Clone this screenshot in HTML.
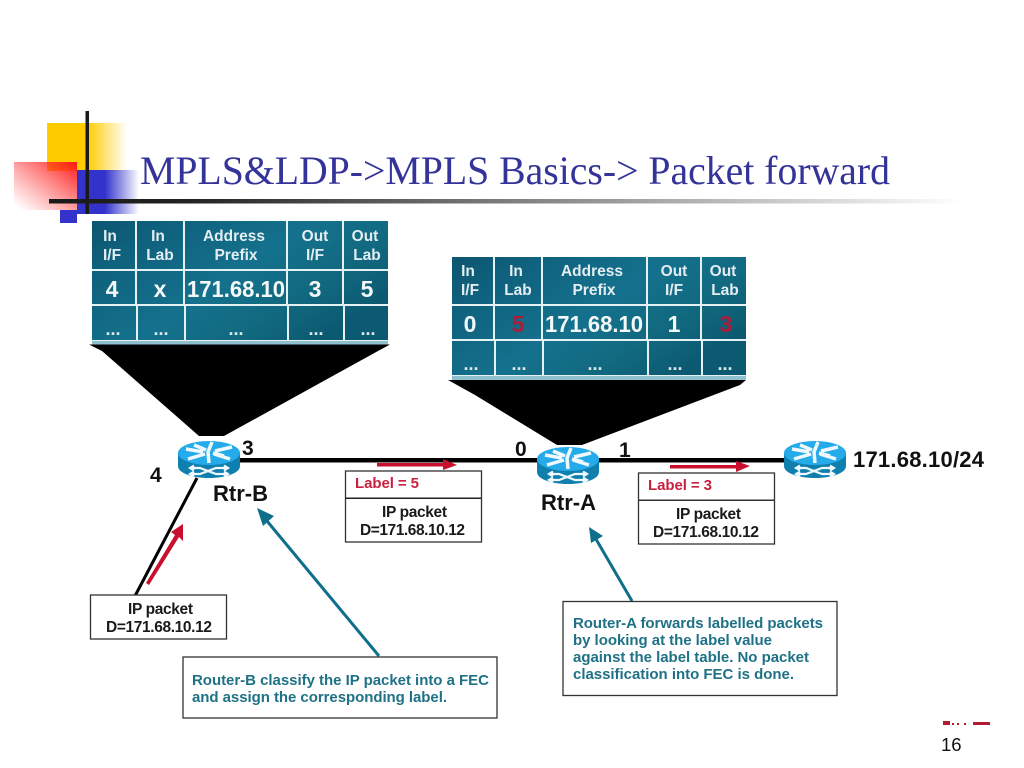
<!DOCTYPE html>
<html><head><meta charset="utf-8">
<style>
html,body{margin:0;padding:0;background:#fff;width:1024px;height:768px;overflow:hidden}
svg{display:block}
text{font-family:"Liberation Sans",sans-serif}
.h{fill:#e4eef2;font-weight:700;font-size:15.5px;text-anchor:middle}
.v{fill:#f4f8f8;font-weight:700;font-size:23px;text-anchor:middle}
.d{fill:#dfe9ec;font-weight:700;font-size:18px;text-anchor:middle}
.k{fill:#1a1a1a;font-weight:700;font-size:15.5px;text-anchor:middle}
.t{fill:#1f7186;font-weight:700;font-size:15px}
.l{fill:#111;font-weight:700}
</style></head><body>
<svg width="1024" height="768" viewBox="0 0 1024 768" xmlns="http://www.w3.org/2000/svg">
<defs>
<linearGradient id="y" x1="0" x2="1" y1="0" y2="0"><stop offset="0" stop-color="#ffcc00"/><stop offset=".5" stop-color="#ffcc00"/><stop offset="1" stop-color="#ffcc00" stop-opacity="0"/></linearGradient>
<linearGradient id="b" x1="0" x2="1" y1="0" y2="0"><stop offset="0" stop-color="#3333cc"/><stop offset=".45" stop-color="#3333cc"/><stop offset="1" stop-color="#3333cc" stop-opacity="0"/></linearGradient>
<linearGradient id="r" x1="1" x2="0" y1="0" y2="1"><stop offset="0" stop-color="#ff1a1a"/><stop offset=".95" stop-color="#ff4040" stop-opacity="0"/></linearGradient>
<linearGradient id="line" x1="0" x2="1" y1="0" y2="0"><stop offset="0" stop-color="#1a1a1a"/><stop offset=".15" stop-color="#222"/><stop offset="1" stop-color="#fff"/></linearGradient>
<linearGradient id="tbl" x1="0" x2="1" y1="0" y2="0.6"><stop offset="0" stop-color="#0c5570"/><stop offset=".2" stop-color="#0f617d"/><stop offset=".55" stop-color="#14718d"/><stop offset=".8" stop-color="#11697f"/><stop offset="1" stop-color="#0c5a72"/></linearGradient>
<g id="router">
<path d="M0 12V25C0 32 14 37 31 37S62 32 62 25V12Z" fill="#0f7fae"/>
<ellipse cx="31" cy="12" rx="31" ry="12" fill="#25aaea"/>
<path d="M8 8L25 11M16 4L28 9M54 6L37 10M46 15L35 12M10 18L27 13M52 18L36 13M34 1L30 11L31 22" fill="none" stroke="#eef8fd" stroke-width="3.500"/>
<path d="M14 27H22L38 33H48M14 33H22L38 27H48M16 24.500L12 27L16 29.500M16 30.500L12 33L16 35.500M46 24.500L50 27L46 29.500M46 30.500L50 33L46 35.500" fill="none" stroke="#eef8fd" stroke-width="2.200"/>
</g>
</defs>

<rect x="47" y="123" width="80" height="48" fill="url(#y)"/>
<rect x="77" y="170" width="62" height="44" fill="url(#b)"/>
<rect x="60" y="210" width="17" height="13" fill="#3333cc"/>
<rect x="14" y="162" width="63" height="48" fill="url(#r)"/>
<rect x="85.500" y="111" width="3.500" height="103" fill="#1a1a1a"/>
<rect x="49" y="199" width="915" height="4.500" fill="url(#line)"/>

<text x="140" y="184" font-size="40" fill="#333399" style="font-family:'Liberation Serif',serif" textLength="750" lengthAdjust="spacingAndGlyphs">MPLS&amp;LDP-&gt;MPLS Basics-&gt; Packet forward</text>

<!-- Table 1 -->
<g>
<rect x="92" y="221" width="296" height="119" fill="url(#tbl)"/>
<g fill="#e6f1f4">
<rect x="92" y="269" width="296" height="2"/><rect x="92" y="304" width="296" height="2"/>
<rect x="135" y="221" width="2" height="84"/><rect x="183" y="221" width="2" height="84"/><rect x="286" y="221" width="2" height="84"/><rect x="342" y="221" width="2" height="84"/>
<rect x="136" y="305" width="2" height="35"/><rect x="184" y="305" width="2" height="35"/><rect x="287" y="305" width="2" height="35"/><rect x="343" y="305" width="2" height="35"/>
<rect x="92" y="340" width="296" height="1"/>
</g>
<rect x="92" y="341" width="296" height="3.500" fill="#8fc0cd"/>
<text class="h" x="110" y="241">In</text><text class="h" x="112" y="260">I/F</text>
<text class="h" x="158" y="241">In</text><text class="h" x="160" y="260">Lab</text>
<text class="h" x="234" y="241">Address</text><text class="h" x="236" y="260">Prefix</text>
<text class="h" x="315" y="241">Out</text><text class="h" x="315" y="260">I/F</text>
<text class="h" x="365" y="241">Out</text><text class="h" x="367" y="260">Lab</text>
<text class="v" x="112" y="297">4</text><text class="v" x="160" y="297">x</text><text class="v" x="236" y="297" textLength="98" lengthAdjust="spacingAndGlyphs">171.68.10</text><text class="v" x="315" y="297">3</text><text class="v" x="367" y="297">5</text>
<text class="d" x="113" y="335">...</text><text class="d" x="161" y="335">...</text><text class="d" x="236" y="335">...</text><text class="d" x="316" y="335">...</text><text class="d" x="368" y="335">...</text>
</g>
<polygon points="89,344.500 390,344.500 378,351 224,436 199,436 102,351" fill="#000"/>

<!-- Table 2 -->
<g>
<rect x="452" y="257" width="294" height="118" fill="url(#tbl)"/>
<g fill="#e6f1f4">
<rect x="452" y="304" width="294" height="2"/><rect x="452" y="339" width="294" height="2"/>
<rect x="493" y="257" width="2" height="83"/><rect x="541" y="257" width="2" height="83"/><rect x="646" y="257" width="2" height="83"/><rect x="700" y="257" width="2" height="83"/>
<rect x="494" y="340" width="2" height="35"/><rect x="542" y="340" width="2" height="35"/><rect x="647" y="340" width="2" height="35"/><rect x="701" y="340" width="2" height="35"/>
<rect x="452" y="375" width="294" height="1"/>
</g>
<rect x="452" y="376" width="294" height="4" fill="#8fc0cd"/>
<text class="h" x="468" y="276">In</text><text class="h" x="470" y="295">I/F</text>
<text class="h" x="516" y="276">In</text><text class="h" x="518" y="295">Lab</text>
<text class="h" x="592" y="276">Address</text><text class="h" x="594" y="295">Prefix</text>
<text class="h" x="674" y="276">Out</text><text class="h" x="674" y="295">I/F</text>
<text class="h" x="723" y="276">Out</text><text class="h" x="725" y="295">Lab</text>
<text class="v" x="470" y="332">0</text><text class="v" x="518" y="332" style="fill:#b01c38">5</text><text class="v" x="594" y="332" textLength="98" lengthAdjust="spacingAndGlyphs">171.68.10</text><text class="v" x="674" y="332">1</text><text class="v" x="726" y="332" style="fill:#b01c38">3</text>
<text class="d" x="471" y="370">...</text><text class="d" x="519" y="370">...</text><text class="d" x="595" y="370">...</text><text class="d" x="675" y="370">...</text><text class="d" x="725" y="370">...</text>
</g>
<polygon points="448,380 746,380 740,385 582,445 557,445 475,395" fill="#000"/>

<!-- Links -->
<rect x="236" y="458" width="304" height="4.500" fill="#000"/>
<rect x="597" y="458" width="190" height="4.500" fill="#000"/>
<line x1="197" y1="478" x2="135" y2="596" stroke="#000" stroke-width="3"/>

<use href="#router" x="178" y="441"/>
<use href="#router" x="537" y="447"/>
<use href="#router" x="784" y="441"/>

<text class="l" x="242" y="455" font-size="21">3</text>
<text class="l" x="150" y="482" font-size="21">4</text>
<text class="l" x="515" y="456" font-size="21">0</text>
<text class="l" x="619" y="457" font-size="21">1</text>
<text class="l" x="213" y="501" font-size="22">Rtr-B</text>
<text class="l" x="541" y="510" font-size="22">Rtr-A</text>
<text class="l" x="853" y="467" font-size="22" textLength="131">171.68.10/24</text>

<!-- Red arrows -->
<g fill="#c8102e" stroke="none">
<rect x="377" y="463" width="68" height="3.500"/><polygon points="443,459 457,465 443,470"/>
<rect x="670" y="465" width="68" height="3.500"/><polygon points="736,461 750,466 736,472"/>
<polygon points="149,585 146,583 175,535 171,532 183,524 183,541 179,537"/>
</g>

<!-- Teal arrows -->
<g stroke="#0e6f8a" stroke-width="3" fill="none"><line x1="379" y1="656" x2="262" y2="515"/><line x1="632" y1="601" x2="593" y2="534"/></g>
<g fill="#0e6f8a"><polygon points="257,508 274,516 263,526"/><polygon points="589,527 603,536 591,543"/></g>

<!-- Boxes -->
<g fill="#fff" stroke="#333" stroke-width="1.300">
<rect x="345.500" y="471" width="136" height="71"/>
<rect x="638.500" y="473" width="136" height="71"/>
<rect x="90.500" y="595" width="136" height="44"/>
<rect x="183" y="657" width="314" height="61"/>
<rect x="563" y="601.500" width="274" height="94"/>
</g>
<rect x="345" y="497.500" width="136" height="1.500" fill="#222"/>
<rect x="638" y="499.500" width="136" height="1.500" fill="#333"/>

<text x="355" y="488" font-size="15" font-weight="700" fill="#c8203f" textLength="64">Label = 5</text>
<text x="648" y="490" font-size="15" font-weight="700" fill="#c8203f" textLength="64">Label = 3</text>
<text class="k" x="414.500" y="517" textLength="65">IP packet</text><text class="k" x="412.500" y="535" textLength="105">D=171.68.10.12</text>
<text class="k" x="708.500" y="519" textLength="65">IP packet</text><text class="k" x="706" y="537" textLength="106">D=171.68.10.12</text>
<text class="k" x="160.500" y="614" textLength="65">IP packet</text><text class="k" x="159" y="632" textLength="106">D=171.68.10.12</text>

<text class="t" x="192" y="685" textLength="297">Router-B classify the IP packet into a FEC</text>
<text class="t" x="192" y="702" textLength="255">and assign the corresponding label.</text>
<text class="t" x="573" y="628" textLength="250">Router-A forwards labelled packets</text>
<text class="t" x="573" y="645" textLength="199">by looking at the label value</text>
<text class="t" x="573" y="662" textLength="236">against the label table. No packet</text>
<text class="t" x="573" y="679" textLength="221">classification into FEC is done.</text>

<rect x="943" y="721" width="7" height="4" fill="#b01c30"/><rect x="952" y="723" width="2" height="2" fill="#b01c30"/><rect x="957" y="723" width="2" height="2" fill="#b01c30"/><rect x="964" y="723" width="2" height="2" fill="#b01c30"/><rect x="973" y="722" width="17" height="3" fill="#b01c30"/>
<text x="941" y="751" font-size="18.500" fill="#111">16</text>
</svg>
</body></html>
